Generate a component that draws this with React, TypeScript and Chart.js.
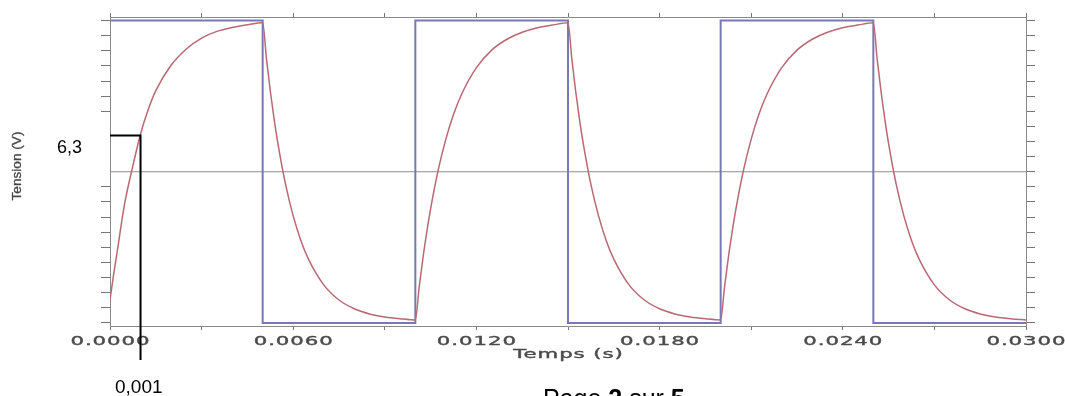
import { useEffect, useRef } from 'react';
import { Chart, registerables } from 'chart.js';

Chart.register(...registerables);

// ---- data ----
const squareTimes = [0, 0.005, 0.005, 0.01, 0.01, 0.015, 0.015, 0.02, 0.02, 0.025, 0.025, 0.03];
const squareVolts = [10, 10, 0, 0, 10, 10, 0, 0, 10, 10, 0, 0];

const capTimes = [
  0, 0.000125, 0.00025, 0.000375, 0.0005, 0.00075, 0.001, 0.00125, 0.0015, 0.002, 0.0025, 0.003, 0.0035, 0.004, 0.0045,
  0.005, 0.005125, 0.00525, 0.005375, 0.0055, 0.00575, 0.006, 0.00625, 0.0065, 0.007, 0.0075, 0.008, 0.0085, 0.009, 0.0095,
  0.01, 0.010125, 0.01025, 0.010375, 0.0105, 0.01075, 0.011, 0.01125, 0.0115, 0.012, 0.0125, 0.013, 0.0135, 0.014, 0.0145,
  0.015, 0.015125, 0.01525, 0.015375, 0.0155, 0.01575, 0.016, 0.01625, 0.0165, 0.017, 0.0175, 0.018, 0.0185, 0.019, 0.0195,
  0.02, 0.020125, 0.02025, 0.020375, 0.0205, 0.02075, 0.021, 0.02125, 0.0215, 0.022, 0.0225, 0.023, 0.0235, 0.024, 0.0245,
  0.025, 0.025125, 0.02525, 0.025375, 0.0255, 0.02575, 0.026, 0.02625, 0.0265, 0.027, 0.0275, 0.028, 0.0285, 0.029, 0.0295,
  0.03,
];
const capVolts = [
  0.76, 1.65, 2.45, 3.3, 4.05, 5.2, 6.25, 7.05, 7.68, 8.52, 9.06, 9.42, 9.64, 9.77, 9.86,
  9.93, 8.73, 7.67, 6.74, 5.93, 4.58, 3.54, 2.73, 2.11, 1.26, 0.76, 0.47, 0.3, 0.2, 0.14,
  0.1, 1.18, 2.15, 3.0, 3.77, 5.06, 6.08, 6.89, 7.53, 8.44, 9.02, 9.38, 9.61, 9.76, 9.85,
  9.93, 8.73, 7.67, 6.74, 5.93, 4.58, 3.54, 2.73, 2.11, 1.26, 0.76, 0.47, 0.3, 0.2, 0.14,
  0.1, 1.18, 2.15, 3.0, 3.77, 5.06, 6.08, 6.89, 7.53, 8.44, 9.02, 9.38, 9.61, 9.76, 9.85,
  9.93, 8.73, 7.67, 6.74, 5.93, 4.58, 3.54, 2.73, 2.11, 1.26, 0.76, 0.47, 0.3, 0.2, 0.14,
  0.1,
];

const midTimes = [0, 0.03];
const midVolts = [5, 5];

const xTickValues = [0, 0.003, 0.006, 0.009, 0.012, 0.015, 0.018, 0.021, 0.024, 0.027, 0.03];
const xLabelValues = [0, 0.006, 0.012, 0.018, 0.024, 0.03];
const xLabels = ['0.0000', '0.0060', '0.0120', '0.0180', '0.0240', '0.0300'];
const yTickValues = [0, 0.5, 1, 1.5, 2, 2.5, 3, 3.5, 4, 4.5, 5, 5.5, 6, 6.5, 7, 7.5, 8, 8.5, 9, 9.5, 10];
const hiddenLeftTicks = [5, 5.5, 6, 6.5];

const xTitle = 'Temps (s)';
const yTitle = 'Tension (V)';

const markerTime = 0.001;
const markerVolt = 6.2;
const markerVoltLabel = '6,3';
const markerTimeLabel = '0,001';
const pageParts: [string, boolean][] = [['Page ', false], ['2', true], [' sur ', false], ['5', true]];

const AXIS = '#8a8a8a';
const TICK = '#777';

export default function App() {
  const ref = useRef<HTMLCanvasElement>(null);

  useEffect(() => {
    const canvas = ref.current;
    if (!canvas) return;

    const overlay = {
      id: 'overlay',
      afterDraw(chart: any) {
        const ctx = chart.ctx as CanvasRenderingContext2D;
        const xs = chart.scales.x;
        const ys = chart.scales.y;
        const ls = 0.5;
        const sx = 1.85;
        const drawWide = (text: string, cx: number, base: number) => {
          ctx.save();
          ctx.translate(cx, base);
          ctx.scale(sx, 1);
          ctx.textAlign = 'left';
          ctx.textBaseline = 'alphabetic';
          const w = ctx.measureText(text).width - ls;
          ctx.strokeText(text, -w / 2, 0);
          ctx.fillText(text, -w / 2, 0);
          ctx.restore();
        };

        ctx.save();
        ctx.fillStyle = '#4a4a4a';
        ctx.strokeStyle = '#4a4a4a';
        ctx.lineWidth = 0.35;
        ctx.font = '11.5px "DejaVu Sans"';
        (ctx as any).letterSpacing = ls + 'px';
        xLabelValues.forEach((v, i) => drawWide(xLabels[i], xs.getPixelForValue(v), 344.5));
        drawWide(xTitle, (xs.left + xs.right) / 2, 357.5);
        (ctx as any).letterSpacing = '0px';
        ctx.restore();

        // y title
        ctx.save();
        ctx.translate(20.5, 166);
        ctx.rotate(-Math.PI / 2);
        ctx.scale(1.05, 1);
        ctx.fillStyle = '#444';
        ctx.strokeStyle = '#444';
        ctx.lineWidth = 0.3;
        ctx.font = '13px "Liberation Sans"';
        ctx.textAlign = 'center';
        ctx.textBaseline = 'alphabetic';
        ctx.strokeText(yTitle, 0, 0);
        ctx.fillText(yTitle, 0, 0);
        ctx.restore();

        // annotation
        const ax = xs.getPixelForValue(markerTime);
        const ay = ys.getPixelForValue(markerVolt);
        const x0 = xs.getPixelForValue(0);
        ctx.save();
        ctx.strokeStyle = '#000';
        ctx.lineWidth = 2;
        ctx.beginPath();
        ctx.moveTo(x0, ay);
        ctx.lineTo(ax, ay);
        ctx.lineTo(ax, 360);
        ctx.stroke();
        ctx.fillStyle = '#000';
        ctx.textAlign = 'left';
        ctx.textBaseline = 'alphabetic';
        ctx.font = '18px "Liberation Sans"';
        ctx.fillText(markerVoltLabel, 57, 153);
        ctx.font = '19px "Liberation Sans"';
        ctx.fillText(markerTimeLabel, 115, 393);

        let px = 543;
        pageParts.forEach(([t, bold]) => {
          ctx.font = (bold ? 'bold ' : '') + '25px "Liberation Sans"';
          ctx.fillText(t, px, 407);
          px += ctx.measureText(t).width;
        });
        ctx.restore();
      },
    };

    const xTicks = (s: any) => {
      s.ticks = xTickValues.map((v) => ({ value: v }));
    };
    const yTicks = (s: any) => {
      s.ticks = yTickValues.map((v) => ({ value: v }));
    };

    const chart = new Chart(canvas, {
      type: 'line',
      data: {
        datasets: [
          {
            label: 'uC',
            data: capTimes.map((t, i) => ({ x: t, y: capVolts[i] })),
            borderColor: 'rgb(185,105,115)',
            borderWidth: 1.5,
            pointRadius: 0,
            cubicInterpolationMode: 'monotone',
            fill: false,
          },
          {
            label: 'E',
            data: squareTimes.map((t, i) => ({ x: t, y: squareVolts[i] })),
            borderColor: 'rgb(120,120,180)',
            borderWidth: 2,
            pointRadius: 0,
            tension: 0,
            fill: false,
          },
          {
            label: 'mid',
            data: midTimes.map((t, i) => ({ x: t, y: midVolts[i] })),
            borderColor: '#8c8c8c',
            borderWidth: 1.2,
            pointRadius: 0,
            fill: false,
          },
        ],
      },
      options: {
        animation: false,
        responsive: true,
        maintainAspectRatio: false,
        layout: { padding: 0 },
        plugins: { legend: { display: false }, tooltip: { enabled: false } },
        scales: {
          x: {
            type: 'linear',
            position: 'bottom',
            min: 0,
            max: 0.03,
            afterBuildTicks: xTicks,
            afterFit: (s: any) => {
              s.height = 70;
            },
            ticks: { display: false },
            grid: { drawOnChartArea: false, drawTicks: true, tickLength: 4, tickColor: TICK, lineWidth: 1 },
            border: { display: true, color: AXIS, width: 1 },
          },
          x2: {
            type: 'linear',
            position: 'top',
            min: 0,
            max: 0.03,
            afterBuildTicks: xTicks,
            afterFit: (s: any) => {
              s.height = 17;
            },
            ticks: { display: false },
            grid: { drawOnChartArea: false, drawTicks: true, tickLength: 4, tickColor: TICK, lineWidth: 1 },
            border: { display: true, color: AXIS, width: 1 },
          },
          y: {
            type: 'linear',
            position: 'left',
            min: -0.1,
            max: 10.116,
            afterBuildTicks: yTicks,
            afterFit: (s: any) => {
              s.width = 110;
            },
            ticks: { display: false },
            grid: {
              drawOnChartArea: false,
              drawTicks: true,
              tickLength: 9,
              lineWidth: 1,
              tickColor: (c: any) => (c.tick && hiddenLeftTicks.includes(c.tick.value) ? 'rgba(0,0,0,0)' : TICK),
            },
            border: { display: true, color: AXIS, width: 1 },
          },
          y2: {
            type: 'linear',
            position: 'right',
            min: -0.1,
            max: 10.116,
            afterBuildTicks: yTicks,
            afterFit: (s: any) => {
              s.width = 39;
            },
            ticks: { display: false },
            grid: { drawOnChartArea: false, drawTicks: true, tickLength: 9, tickColor: TICK, lineWidth: 1 },
            border: { display: true, color: AXIS, width: 1 },
          },
        },
      },
      plugins: [overlay],
    } as any);

    return () => chart.destroy();
  }, []);

  return (
    <div style={{ position: 'absolute', left: 0, top: 0, width: 1065, height: 396, background: '#fff' }}>
      <canvas ref={ref} />
    </div>
  );
}
